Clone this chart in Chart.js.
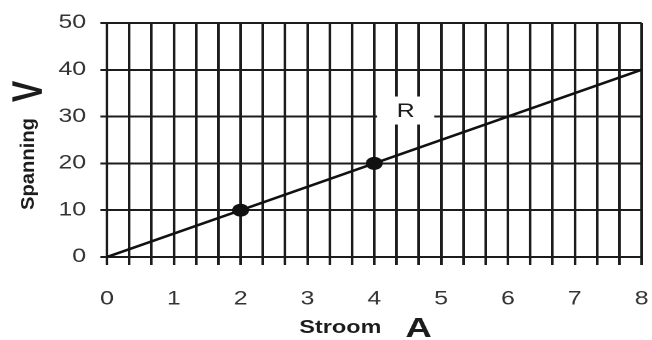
<!DOCTYPE html>
<html>
<head>
<meta charset="utf-8">
<script src="https://cdn.jsdelivr.net/npm/chart.js@4.4.0/dist/chart.umd.min.js"></script>
<style>
  html, body { margin: 0; padding: 0; background: #fff; overflow: hidden; }
  /* the chart is laid out 500px wide and stretched sideways to 652px */
  #wrap { position: relative; width: 500px; height: 340px; transform: scaleX(1.304); transform-origin: 0 0; }
  #ohmChart { display: block; }
</style>
</head>
<body>
<div id="wrap"><canvas id="ohmChart" width="500" height="340"></canvas></div>
<script>
// current (A) against voltage (V)
var stroom   = [0, 2, 4, 8];
var spanning = [0, 10, 20, 40];
var measured = [false, true, true, false];

var xTickLabels = ['0', '1', '2', '3', '4', '5', '6', '7', '8'];
var yTickLabels = ['0', '10', '20', '30', '40', '50'];
var gridPerUnit = 3;

var lineLabel = { text: 'R', x: 4.47, y: 31.3 };

var INK = '#1c1c1c';
var FONT = "'Liberation Sans', Arial, sans-serif";

function xTicks() {
    var ticks = [];
    var last = Number(xTickLabels[xTickLabels.length - 1]);
    for (var i = 0; i <= last * gridPerUnit; i++) {
        ticks.push({ value: i / gridPerUnit });
    }
    return ticks;
}

// fixed axis boxes, no extra room for the end labels
function fixBox(size) {
    return function (scale) {
        if (scale.isHorizontal()) {
            scale.height = size;
        } else {
            scale.width = size;
        }
        scale.paddingLeft = 0;
        scale.paddingRight = 0;
        scale.paddingTop = 0;
        scale.paddingBottom = 0;
    };
}

var labelPlugin = {
    id: 'lineLabel',
    beforeDatasetsDraw: function (chart) {
        var ctx = chart.ctx;
        var px = chart.scales.x.getPixelForValue(lineLabel.x);
        var py = chart.scales.y.getPixelForValue(lineLabel.y);
        ctx.save();
        ctx.fillStyle = '#fff';
        ctx.fillRect(px - 22, py - 14, 44, 28);
        ctx.fillStyle = INK;
        ctx.font = '19px ' + FONT;
        ctx.textAlign = 'center';
        ctx.textBaseline = 'middle';
        ctx.fillText(lineLabel.text, px, py + 1);
        ctx.restore();
    }
};

var titlePlugin = {
    id: 'axisTitles',
    afterDraw: function (chart) {
        var ctx = chart.ctx;
        ctx.save();
        ctx.fillStyle = INK;
        ctx.textAlign = 'center';
        ctx.textBaseline = 'alphabetic';

        ctx.font = 'bold 18px ' + FONT;
        ctx.fillText('Stroom', 261, 333);
        ctx.font = 'bold 28px ' + FONT;
        ctx.fillText('A', 321, 337);

        // vertical title, rotated
        ctx.save();
        ctx.translate(20.7, 91.5);
        ctx.rotate(-Math.PI / 2);
        ctx.font = 'bold 32px ' + FONT;
        ctx.fillText('V', 0, 11.5);
        ctx.restore();

        ctx.save();
        ctx.translate(22.2, 164);
        ctx.rotate(-Math.PI / 2);
        ctx.font = 'bold 15px ' + FONT;
        var w = ctx.measureText('Spanning').width;
        ctx.scale(92 / w, 1);
        ctx.fillText('Spanning', 0, 4);
        ctx.restore();

        ctx.restore();
    }
};

var ctx = document.getElementById('ohmChart').getContext('2d');

new Chart(ctx, {
    type: 'line',
    data: {
        datasets: [{
            data: stroom.map(function (a, i) { return { x: a, y: spanning[i] }; }),
            borderColor: '#111',
            borderWidth: 2.5,
            backgroundColor: '#111',
            pointBackgroundColor: '#111',
            pointBorderWidth: 0,
            pointRadius: function (c) { return measured[c.dataIndex] ? 6.5 : 0; },
            tension: 0,
            fill: false
        }]
    },
    options: {
        responsive: false,
        animation: false,
        devicePixelRatio: 2,
        layout: { padding: { top: 23, right: 8, bottom: 0, left: 0 } },
        plugins: {
            legend: { display: false },
            tooltip: { enabled: false }
        },
        scales: {
            x: {
                type: 'linear',
                min: 0,
                max: 8,
                afterBuildTicks: function (scale) { scale.ticks = xTicks(); },
                afterFit: fixBox(83),
                grid: { color: INK, lineWidth: 2, tickLength: 8, tickColor: INK, tickWidth: 2 },
                border: { display: false },
                ticks: {
                    autoSkip: false,
                    maxRotation: 0,
                    padding: 23,
                    color: '#333',
                    font: { family: FONT, size: 19 },
                    callback: function (value) {
                        var r = Math.round(value);
                        return Math.abs(value - r) < 1e-6 ? xTickLabels[r] : '';
                    }
                }
            },
            y: {
                min: 0,
                max: 50,
                afterBuildTicks: function (scale) {
                    scale.ticks = yTickLabels.map(function (t) { return { value: Number(t) }; });
                },
                afterFit: fixBox(82),
                grid: { color: INK, lineWidth: 2, tickLength: 5, tickColor: INK, tickWidth: 2 },
                border: { display: false },
                ticks: {
                    padding: 11,
                    color: '#333',
                    font: { family: FONT, size: 19 },
                    callback: function (value) { return String(value); }
                }
            }
        }
    },
    plugins: [labelPlugin, titlePlugin]
});
</script>
</body>
</html>
